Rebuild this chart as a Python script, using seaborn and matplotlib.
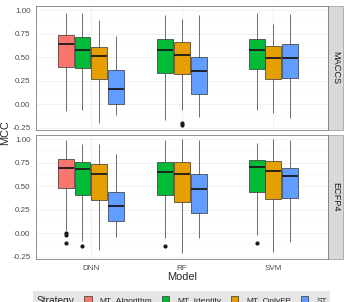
import numpy as np
import pandas as pd
import matplotlib
matplotlib.use("Agg")
import matplotlib.pyplot as plt
from matplotlib.patches import Patch, Rectangle
import seaborn as sns

models = ["DNN", "RF", "SVM"]
strategies = ["MT_Algorithm", "MT_Identity", "MT_OnlyFP", "ST"]
fingerprints = ["MACCS", "ECFP4"]
colors = ["#F8766D", "#00BA38", "#E69F00", "#619CFF"]

# one entry per box
box_fp = ["MACCS"] * 10 + ["ECFP4"] * 10
box_model = (["DNN"] * 4 + ["RF"] * 3 + ["SVM"] * 3) * 2
box_strategy = (strategies + strategies[1:] + strategies[1:]) * 2

whisker_lo = [-0.07, -0.06, -0.20, -0.11, -0.17, -0.06, -0.13, -0.06, -0.09, -0.15,
              0.035, -0.085, -0.18, -0.035, -0.05, -0.21, -0.047, -0.018, -0.20, -0.096]
q1 = [0.40, 0.385, 0.27, 0.0, 0.335, 0.325, 0.11, 0.38, 0.27, 0.28,
      0.48, 0.41, 0.35, 0.135, 0.41, 0.335, 0.215, 0.44, 0.36, 0.375]
median = [0.64, 0.575, 0.51, 0.16, 0.58, 0.52, 0.35, 0.575, 0.49, 0.49,
          0.70, 0.68, 0.635, 0.29, 0.655, 0.635, 0.47, 0.705, 0.665, 0.605]
q3 = [0.735, 0.72, 0.615, 0.37, 0.70, 0.665, 0.505, 0.69, 0.62, 0.64,
      0.79, 0.755, 0.74, 0.435, 0.755, 0.755, 0.635, 0.78, 0.765, 0.70]
whisker_hi = [0.97, 0.97, 0.90, 0.725, 0.95, 0.905, 0.955, 0.97, 0.85, 0.96,
              0.99, 0.95, 0.95, 0.845, 0.99, 1.0, 0.99, 0.965, 1.0, 0.99]
outliers = [[], [], [], [], [], [-0.20, -0.215], [], [], [], [],
            [0.005, -0.02, -0.10], [-0.13], [], [], [-0.13], [], [], [-0.10], [], []]


def expand(lo, a, m, b, hi, outs):
    # 17 values whose quartiles land on a, m, b
    vals = sorted(outs) + [lo] + [a] * (4 - len(outs)) + [m] * 4 + [b] * 7 + [hi]
    return vals


rows = []
for i in range(len(box_fp)):
    for v in expand(whisker_lo[i], q1[i], median[i], q3[i], whisker_hi[i], outliers[i]):
        rows.append({"fp": box_fp[i], "model": box_model[i],
                     "strategy": box_strategy[i], "mcc": v})
df = pd.DataFrame(rows)

sns.set_style("white")
plt.rcParams["font.family"] = ["Liberation Sans", "DejaVu Sans"]

pal = dict(zip(strategies, colors))

fig, axes = plt.subplots(2, 1, figsize=(3.46, 3.02), dpi=100, sharex=True)
fig.subplots_adjust(left=36 / 346, right=328 / 346, top=1 - 6 / 302,
                    bottom=1 - 259 / 302, hspace=5 / 124)

for ax, fp in zip(axes, fingerprints):
    sub = df[df["fp"] == fp]
    for mods, hues, w in [(["DNN"], strategies, 0.73),
                          (["RF", "SVM"], strategies[1:], 0.5475)]:
        part = sub[sub["model"].isin(mods)]
        sns.boxplot(data=part, x="model", y="mcc", hue="strategy",
                    order=models, hue_order=hues,
                    palette={h: pal[h] for h in hues},
                    width=w, gap=0.05, dodge=True, saturation=1,
                    linecolor="#333333", linewidth=0.5, showcaps=False,
                    medianprops={"color": "#1a1a1a", "linewidth": 1.3},
                    flierprops={"marker": "o", "markerfacecolor": "#1a1a1a",
                                "markeredgecolor": "#1a1a1a", "markersize": 2},
                    legend=False, ax=ax)

    ax.set_xlim(-0.6, 2.6)
    ax.set_ylim(-0.273, 1.046)
    yt = [-0.25, 0.0, 0.25, 0.5, 0.75, 1.0]
    ax.set_yticks(yt)
    ax.set_yticklabels(["-0.25", "0.00", "0.25", "0.50", "0.75", "1.00"])
    ax.set_yticks([-0.125, 0.125, 0.375, 0.625, 0.875], minor=True)
    ax.grid(which="major", color="#EBEBEB", linewidth=0.5)
    ax.grid(which="minor", axis="y", color="#F4F4F4", linewidth=0.3)
    ax.set_axisbelow(True)
    for s in ax.spines.values():
        s.set_color("#7f7f7f")
        s.set_linewidth(0.6)
    ax.tick_params(length=2.5, width=0.5, color="#555555", labelsize=5.8,
                   labelcolor="#4d4d4d", pad=1.5)
    ax.tick_params(which="minor", length=0)
    ax.set_xlabel("")
    ax.set_ylabel("")

    # facet strip on the right
    sw = 15 / 292
    ax.add_patch(Rectangle((1.0, 0.0), sw, 1.0, transform=ax.transAxes,
                           facecolor="#D9D9D9", edgecolor="#9a9a9a",
                           linewidth=0.5, clip_on=False))
    ax.text(1.0 + sw / 2, 0.5, fp, transform=ax.transAxes, rotation=-90,
            ha="center", va="center", fontsize=6.6, color="#1a1a1a")

axes[0].tick_params(axis="x", length=0)
axes[1].set_xticks(range(len(models)))
axes[1].set_xticklabels(models)

fig.text(5 / 346, 1 - 133 / 302, "MCC", rotation=90, ha="center", va="center",
         fontsize=7.9)
fig.text(182 / 346, 1 - 277 / 302, "Model", ha="center", va="center", fontsize=7.9)

# legend strip at the bottom
fig.patches.append(Rectangle((33 / 346, 0), (330 - 33) / 346, 11 / 302,
                             transform=fig.transFigure, facecolor="#E6E6E6",
                             edgecolor="none", zorder=0))
fig.text(37 / 346, 1.5 / 302, "Strategy", ha="left", va="center", fontsize=7.3)
handles = [Patch(facecolor=c, edgecolor="#333333", linewidth=0.5) for c in colors]
fig.legend(handles, strategies, loc="center left",
           bbox_to_anchor=(84 / 346, 1.5 / 302), ncol=4, frameon=False,
           fontsize=6, handlelength=0.9, handleheight=1.1, handletextpad=1.0,
           columnspacing=1.1, borderpad=0, borderaxespad=0)

fig.savefig("out.png", dpi=100)
